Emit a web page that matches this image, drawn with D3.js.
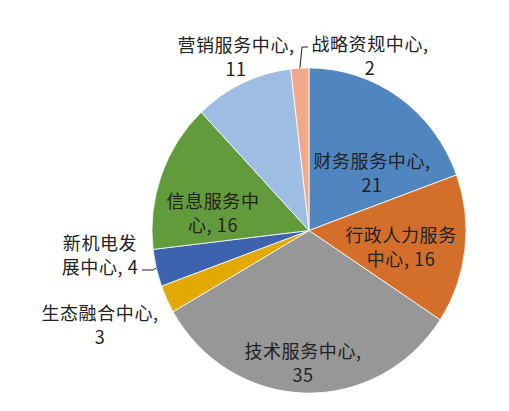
<!DOCTYPE html>
<html>
<head>
<meta charset="utf-8">
<script src="https://cdn.jsdelivr.net/npm/d3@7"></script>
<style>
  html, body { margin: 0; padding: 0; background: #fff; }
  svg text { font-family: "Noto Sans CJK SC", sans-serif; font-size: 18px; letter-spacing: 0.6px; fill: #222; }
</style>
</head>
<body>
<div id="chart"></div>
<script>
// data, clockwise from 12 o'clock
let names = ["财务服务中心", "行政人力服务中心", "技术服务中心", "生态融合中心", "新机电发展中心", "信息服务中心", "营销服务中心", "战略资规中心"];
let values = [21, 16, 35, 3, 4, 16, 11, 2];
let colors = ["#4f86bf", "#d46f2b", "#979797", "#e2a900", "#3d63ae", "#629b3c", "#9dbde2", "#f1a98b"];
// how many characters of the name fit on the first label line (null = whole name)
let firstLineChars = [null, 6, null, null, 4, 5, null, null];

let width = 509, height = 411;
let cx = 309, cy = 230.5;
let r = 157, squash = 162.6 / 157; // the original pie is slightly taller than wide
let lineGap = 24;

// label block centres, relative to the pie centre
let labelOffset = [[63, -59], [92, 15], [-6, 131], [-209, 93], [-209, 23], [-96, -19], [-73, -175], [61, -176]];
// leader lines: elbow points, relative to the pie centre
let leaders = { 4: [[-156, 39.5], [-167, 39.5]], 7: [[-7, -183.5], [-1, -183.5]] };

let svg = d3.select("#chart").append("svg")
  .attr("width", width)
  .attr("height", height);

let pie = d3.pie().value(d => d).sort(null);
let arcs = pie(values);

let arc = d3.arc().innerRadius(0).outerRadius(r);
let edge = d3.arc().innerRadius(r).outerRadius(r);

let g = svg.append("g")
  .attr("transform", `translate(${cx},${cy}) scale(1,${squash})`);

g.selectAll("path")
  .data(arcs)
  .enter()
  .append("path")
  .attr("d", arc)
  .attr("fill", (d, i) => colors[i])
  .attr("stroke", "#fff")
  .attr("stroke-width", 0.8)
  .attr("vector-effect", "non-scaling-stroke");

// leader lines
Object.keys(leaders).forEach(k => {
  let i = +k;
  let p = edge.centroid(arcs[i]);
  let pts = [[p[0], p[1] * squash]].concat(leaders[k]);
  svg.append("path")
    .attr("transform", `translate(${cx},${cy})`)
    .attr("d", d3.line()(pts))
    .attr("fill", "none")
    .attr("stroke", "#222")
    .attr("stroke-width", 1);
});

// labels
let labels = svg.append("g").attr("transform", `translate(${cx},${cy})`);
arcs.forEach((d, i) => {
  let name = names[i];
  let n = firstLineChars[i];
  let lines;
  if (n == null) lines = [name + ",", String(values[i])];
  else lines = [name.slice(0, n), name.slice(n) + ", " + values[i]];
  let t = labels.append("text")
    .attr("text-anchor", "middle")
    .attr("x", labelOffset[i][0])
    .attr("y", labelOffset[i][1]);
  lines.forEach((s, j) => {
    t.append("tspan")
      .attr("x", labelOffset[i][0])
      .attr("y", labelOffset[i][1] + (j - (lines.length - 1) / 2) * lineGap)
      .attr("dominant-baseline", "central")
      .text(s);
  });
});
</script>
</body>
</html>
